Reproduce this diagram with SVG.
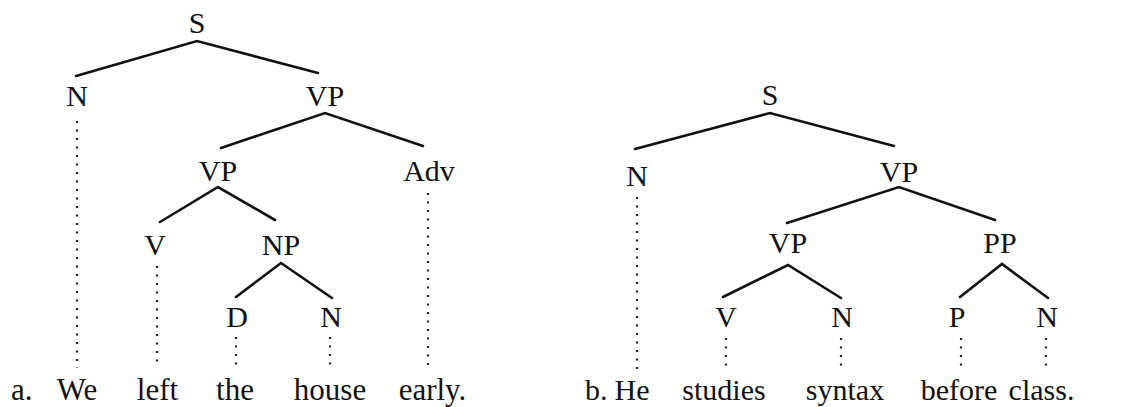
<svg xmlns="http://www.w3.org/2000/svg" width="1137" height="407" viewBox="0 0 1137 407">
<style>
text{font-family:"Liberation Serif","Times New Roman",serif;font-size:30px;fill:#111}
.l,.w{text-anchor:middle}
.wa{font-size:31px}
.e{stroke:#111;stroke-width:2.6;fill:none;stroke-linecap:round}
.d{stroke:#222;stroke-width:2.2;fill:none;stroke-dasharray:2 6.5}
</style>
<rect width="1137" height="407" fill="#fff"/>
<g id="connectors">
<path class="e" d="M76 76L197 41L318 73M221 148L325 113L423 146M160 222L218 187L275 220M236 297L281 263L332 298"/>
<path class="e" d="M635 149L770 113L894 146M787 223L899 187L995 220M723 297L788 265L841 298M960 297L1002 264L1048 298"/>
<path class="d" d="M77 121V368M157 266V368M236 337V368M330 337V368M428 193V368"/>
<path class="d" d="M637 197V370M726 338V370M841 338V370M961 338V370M1046 338V370"/>
</g>
<g id="treeA">
<g id="a-S"><text class="l" x="197" y="33">S</text></g>
<g id="a-N"><text class="l" x="77" y="106">N</text></g>
<g id="a-VP"><text class="l" x="325" y="106">VP</text></g>
<g id="a-VP2"><text class="l" x="218" y="181">VP</text></g>
<g id="a-Adv"><text class="l" x="429" y="181">Adv</text></g>
<g id="a-V"><text class="l" x="155" y="255">V</text></g>
<g id="a-NP"><text class="l" x="281" y="255">NP</text></g>
<g id="a-D"><text class="l" x="237" y="327">D</text></g>
<g id="a-N2"><text class="l" x="331" y="327">N</text></g>
<g id="a-words">
<text class="wa" x="11" y="400">a.</text>
<text class="w wa" x="77" y="400">We</text>
<text class="w wa" x="157.5" y="400">left</text>
<text class="w wa" x="235" y="400">the</text>
<text class="w wa" x="330" y="400">house</text>
<text class="w wa" x="432.5" y="400">early.</text>
</g>
</g>
<g id="treeB">
<g id="b-S"><text class="l" x="770" y="105">S</text></g>
<g id="b-N"><text class="l" x="637" y="186">N</text></g>
<g id="b-VP"><text class="l" x="899" y="182">VP</text></g>
<g id="b-VP2"><text class="l" x="788" y="253">VP</text></g>
<g id="b-PP"><text class="l" x="1000" y="253">PP</text></g>
<g id="b-V"><text class="l" x="726" y="327">V</text></g>
<g id="b-N2"><text class="l" x="842" y="327">N</text></g>
<g id="b-P"><text class="l" x="957" y="327">P</text></g>
<g id="b-N3"><text class="l" x="1047" y="327">N</text></g>
<g id="b-words">
<text x="585" y="400">b.</text>
<text class="w" x="632" y="400">He</text>
<text class="w" x="724" y="400">studies</text>
<text class="w" x="845" y="400">syntax</text>
<text class="w" x="959" y="400">before</text>
<text class="w" x="1041.5" y="400">class.</text>
</g>
</g>
</svg>
